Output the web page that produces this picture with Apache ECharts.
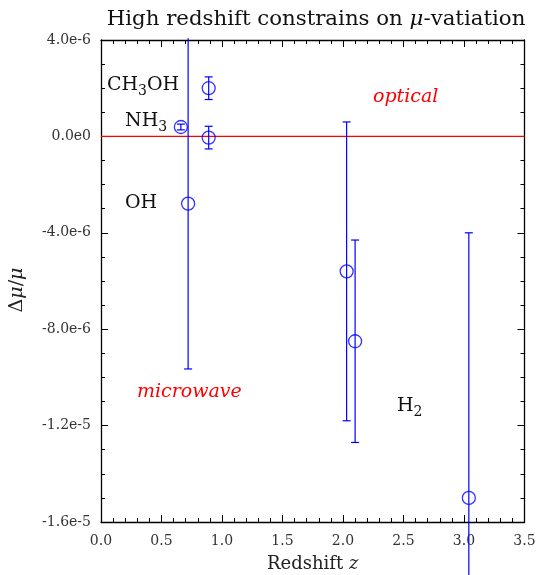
<!DOCTYPE html>
<html><head><meta charset="utf-8">
<script src="https://cdn.jsdelivr.net/npm/echarts@6/dist/echarts.min.js"></script>
<style>html,body{margin:0;padding:0;background:#fff}#c{width:537px;height:575px}</style>
</head><body><div id="c"></div>
<script>
// Data
var redshift = [0.66, 0.89, 0.89, 0.72, 2.03, 2.10, 3.04];
var deltaMu  = [0.39e-6, 2.0e-6, -0.05e-6, -2.79e-6, -5.6e-6, -8.5e-6, -15.0e-6];
var errLow   = [0.12e-6, 0.47e-6, 0.47e-6, 6.86e-6, 6.2e-6, 4.2e-6, 11.0e-6];
var errHigh  = [0.12e-6, 0.47e-6, 0.47e-6, 6.86e-6, 6.2e-6, 4.2e-6, 11.0e-6];
var xTicks = [0, 3.5, 0.5];
var yTicks = [-16e-6, 4e-6, 4e-6];
var Y_MIN = yTicks[0], Y_MAX = yTicks[1];

var F = "'DejaVu Serif','Liberation Serif',serif";
var blue = '#0000ff';
var pts = redshift.map(function(z,i){return [z, deltaMu[i]];});
var bars = redshift.map(function(z,i){return [z, deltaMu[i]-errLow[i], deltaMu[i]+errHigh[i]];});

function fmt(v){ return v.toExponential(1).replace('e+','e'); }

function axis(extra){
  var a = {
    type:'value', splitLine:{show:false},
    axisLine:{show:true, onZero:false, lineStyle:{color:'#000', width:1.3}},
    axisTick:{show:true, inside:true, length:7, lineStyle:{color:'#000'}},
    minorSplitLine:{show:false}
  };
  return Object.assign(a, extra);
}

var chart = echarts.init(document.getElementById('c'), null, {renderer:'canvas'});
chart.setOption({
  animation:false,
  backgroundColor:'#fff',
  title:{
    text:'High redshift constrains on {i|μ}-vatiation',
    left:311, textAlign:'center', top:4,
    textStyle:{fontFamily:F, fontSize:21.3, fontWeight:'normal', color:'#111',
      rich:{i:{fontFamily:F, fontSize:21.3, fontStyle:'italic', color:'#111'}}}
  },
  grid:{left:101, right:12.5, top:40, bottom:53, containLabel:false, outerBoundsMode:'none'},
  xAxis:[
    axis({min:xTicks[0], max:xTicks[1], interval:xTicks[2],
      minorTick:{show:true, splitNumber:5, length:4, lineStyle:{color:'#000'}},
      axisLabel:{fontFamily:F, fontSize:14, color:'#333', margin:12, formatter:function(v){return v.toFixed(1);}},
      name:'Redshift {i|z}', nameLocation:'middle', nameGap:33,
      nameTextStyle:{fontFamily:F, fontSize:18, color:'#222', rich:{i:{fontFamily:F, fontSize:18, fontStyle:'italic', color:'#222'}}}
    }),
    axis({position:'top', min:xTicks[0], max:xTicks[1], interval:xTicks[2],
      minorTick:{show:true, splitNumber:5, length:4, lineStyle:{color:'#000'}},
      axisLabel:{show:false}})
  ],
  yAxis:[
    axis({min:Y_MIN, max:Y_MAX, interval:yTicks[2],
      minorTick:{show:true, splitNumber:4, length:4, lineStyle:{color:'#000'}},
      axisLabel:{fontFamily:F, fontSize:14, color:'#333', margin:10, formatter:fmt},
      name:'Δ{i|μ}/{i|μ}', nameLocation:'middle', nameGap:74, nameRotate:90,
      nameTextStyle:{fontFamily:F, fontSize:19, color:'#222', padding:[0,18,0,0], rich:{i:{fontFamily:F, fontSize:19, fontStyle:'italic', color:'#222'}}}
    }),
    axis({position:'right', min:Y_MIN, max:Y_MAX, interval:yTicks[2],
      minorTick:{show:true, splitNumber:4, length:4, lineStyle:{color:'#000'}},
      axisLabel:{show:false}})
  ],
  series:[
    {
      type:'line', data:[[xTicks[0],0],[xTicks[1],0]], symbol:'none', silent:true,
      lineStyle:{color:'#ff0000', width:1.2}, z:1
    },
    {
      type:'custom', data:bars, clip:false, z:2,
      renderItem:function(params, api){
        var x = api.value(0), lo = api.value(1), hi = api.value(2);
        var pLo = api.coord([x, lo]), pHi = api.coord([x, hi]);
        var cw = 4;
        var children = [{type:'line', shape:{x1:pLo[0], y1:pLo[1], x2:pHi[0], y2:pHi[1]}, style:{stroke:blue, lineWidth:1.2}}];
        if (lo >= Y_MIN) children.push({type:'line', shape:{x1:pLo[0]-cw, y1:pLo[1], x2:pLo[0]+cw, y2:pLo[1]}, style:{stroke:blue, lineWidth:1.2}});
        if (hi <= Y_MAX) children.push({type:'line', shape:{x1:pHi[0]-cw, y1:pHi[1], x2:pHi[0]+cw, y2:pHi[1]}, style:{stroke:blue, lineWidth:1.2}});
        return {type:'group', children:children};
      }
    },
    {
      type:'scatter', data:pts, symbol:'circle', symbolSize:13, z:3,
      itemStyle:{color:'rgba(0,0,0,0)', borderColor:blue, borderWidth:1.3}
    }
  ],
  graphic:[
    {type:'text', left:107, top:76, style:{text:'CH{s|3}OH', fontFamily:F, fontSize:19, fill:'#111', rich:{s:{fontFamily:F, fontSize:14, fill:'#111', padding:[11,0,0,0]}}}},
    {type:'text', left:125, top:112, style:{text:'NH{s|3}', fontFamily:F, fontSize:19, fill:'#111', rich:{s:{fontFamily:F, fontSize:14, fill:'#111', padding:[11,0,0,0]}}}},
    {type:'text', left:125, top:194, style:{text:'OH', fontFamily:F, fontSize:19, fill:'#111'}},
    {type:'text', left:397, top:397, style:{text:'H{s|2}', fontFamily:F, fontSize:19, fill:'#111', rich:{s:{fontFamily:F, fontSize:14, fill:'#111', padding:[11,0,0,0]}}}},
    {type:'text', left:373, top:88, style:{text:'optical', fontFamily:F, fontSize:19, fontStyle:'italic', fill:'#ff0000'}},
    {type:'text', left:137, top:383, style:{text:'microwave', fontFamily:F, fontSize:19, fontStyle:'italic', fill:'#ff0000'}}
  ]
});
</script></body></html>
